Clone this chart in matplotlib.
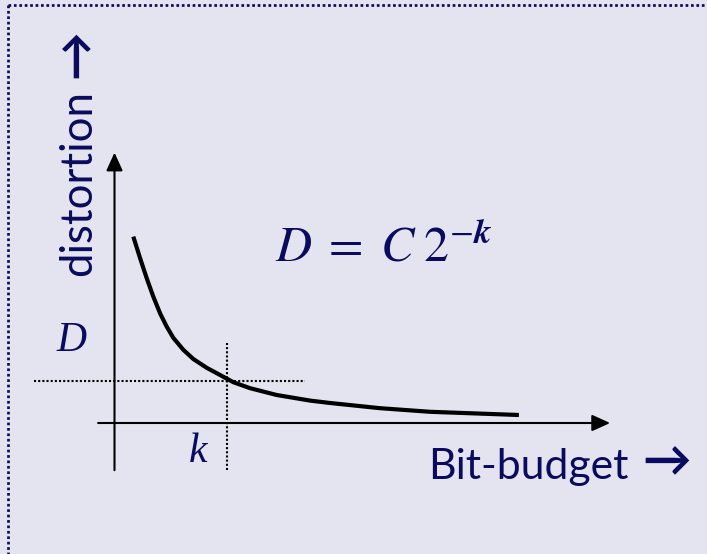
import matplotlib
matplotlib.use("Agg")
import matplotlib.pyplot as plt
from matplotlib.lines import Line2D

# ---- data (conceptual units: origin at axes crossing) ----
bits = [0.47, 0.64, 0.805, 0.97, 1.14, 1.305, 1.47, 1.72, 1.97, 2.305, 2.64, 2.97,
        3.39, 4.055, 4.89, 5.39, 6.64, 7.89, 9.14, 10.11]
distortion = [4.66, 4.12, 3.62, 3.16, 2.74, 2.41, 2.13, 1.83, 1.60, 1.38, 1.20, 1.02,
              0.87, 0.70, 0.56, 0.50, 0.37, 0.28, 0.235, 0.20]
k_value = 2.80
D_value = 1.06
x_axis_range = (-0.41, 12.39)
y_axis_range = (-1.18, 6.76)
hguide_range = (-2.01, 4.76)
vguide_range = (-1.18, 2.0)

x_label = "Bit-budget"
y_label = "distortion"
arrow_char = "\u2192"
equation = r"$D\;=\;C\;2^{-\mathbfit{k}}$"

navy = "#0a0a5e"
bg = "#E4E4F0"

plt.rcParams["mathtext.fontset"] = "stix"

W, H = 707, 554
fig = plt.figure(figsize=(W / 100, H / 100), dpi=100, facecolor=bg)
ax = fig.add_axes([0, 0, 1, 1])
ax.set_facecolor(bg)
scale = 40.0
ox, oy = 114.5, 423.0
ax.set_xlim(-ox / scale, (W - ox) / scale)
ax.set_ylim(-(H - oy) / scale, oy / scale)
ax.axis("off")

# dotted border
fig.add_artist(Line2D([8 / W, 1.0], [1 - 4.5 / H, 1 - 4.5 / H], transform=fig.transFigure,
                      color=navy, lw=1.95, linestyle=(0, (1, 1)), dash_capstyle="butt"))
fig.add_artist(Line2D([8 / W, 8 / W], [1 - 4.5 / H, 0.0], transform=fig.transFigure,
                      color=navy, lw=1.95, linestyle=(0, (1, 1)), dash_capstyle="butt"))

# axes arrows
arrow_kw = dict(arrowstyle="-|>,head_length=1.1,head_width=0.5", lw=1.5, color="black",
                shrinkA=0, shrinkB=0, mutation_scale=10)
ax.annotate("", xy=(x_axis_range[1], 0), xytext=(x_axis_range[0], 0), arrowprops=arrow_kw)
ax.annotate("", xy=(0, y_axis_range[1]), xytext=(0, y_axis_range[0]), arrowprops=arrow_kw)

# guides
ax.plot(hguide_range, [D_value, D_value], color="black", lw=1.5, linestyle=(0, (1, 1)))
ax.plot([k_value, k_value], vguide_range, color="black", lw=1.5, linestyle=(0, (1, 1)))

# curve
ax.plot(bits, distortion, color="black", lw=3.0, solid_capstyle="butt", solid_joinstyle="round")

# texts
ax.text(-1.08, 2.05, "D", family="Liberation Serif", style="italic", fontsize=30,
        color=navy, ha="center", va="center")
ax.text(2.09, -0.72, "k", family="Liberation Serif", style="italic", fontsize=30,
        color=navy, ha="center", va="center")
ax.text(4.02, 4.05, equation, fontsize=36, color=navy, ha="left", va="baseline")

ax.text(428 / W, 1 - 479 / H, x_label, transform=fig.transFigure, fontsize=30.8,
        family=["Lato", "DejaVu Sans"], color=navy, ha="left", va="baseline")
ax.text(667 / W, 1 - 462 / H, arrow_char, transform=fig.transFigure, fontsize=35,
        family=["Lato", "DejaVu Sans"], fontweight="bold", color=navy,
        ha="center", va="center")
ax.text(79 / W, 1 - 276 / H, y_label, transform=fig.transFigure, fontsize=31.5,
        family=["Lato", "DejaVu Sans"], color=navy, ha="center", va="bottom", rotation=90)
ax.text(76 / W, 1 - 54 / H, arrow_char, transform=fig.transFigure, fontsize=35,
        family=["Lato", "DejaVu Sans"], fontweight="bold", color=navy,
        ha="center", va="center", rotation=90)

fig.savefig("out.png", dpi=100, facecolor=bg)
